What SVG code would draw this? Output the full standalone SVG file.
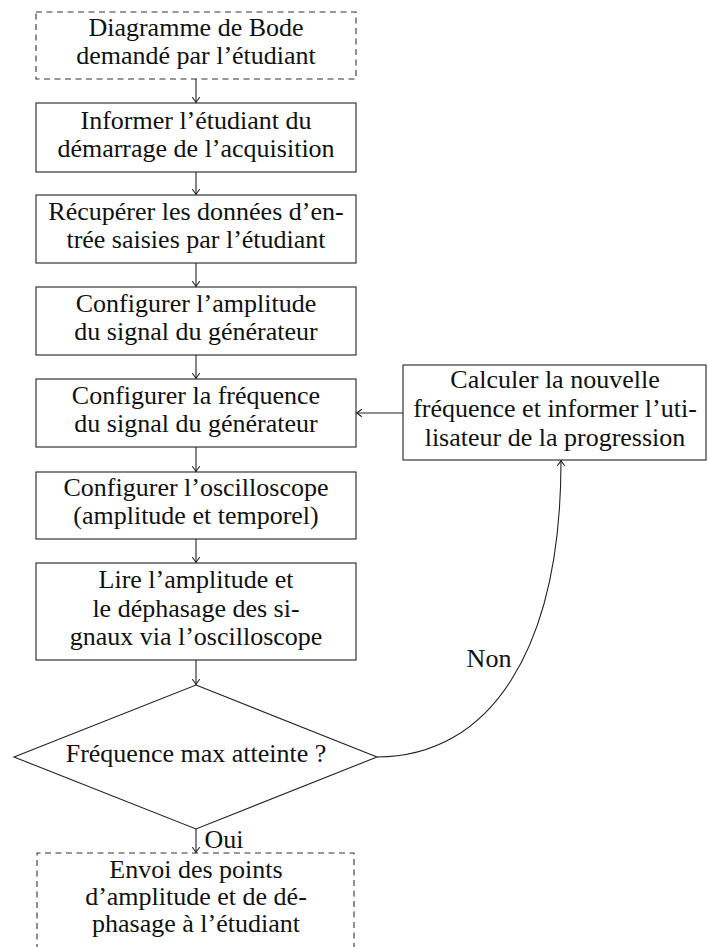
<svg xmlns="http://www.w3.org/2000/svg" width="708" height="947" viewBox="0 0 708 947">
<defs>
<style>
.box{fill:#fff;stroke:#222;stroke-width:1.1}
.dash{fill:none;stroke:#333;stroke-width:1.1;stroke-dasharray:6,4.5}
.t{font-family:"Liberation Serif","Times New Roman",serif;font-size:26px;fill:#111;text-anchor:middle}
.c{fill:none;stroke:#222;stroke-width:1.1}
</style>
<marker id="ah" viewBox="-6 -4 8 8" markerWidth="8" markerHeight="8" refX="0" refY="0" orient="auto" markerUnits="userSpaceOnUse">
<path d="M-5,-3.5 Q-1.5,-0.8 0,0 Q-1.5,0.8 -5,3.5" fill="none" stroke="#222" stroke-width="1.1" stroke-linecap="round"/>
</marker>
</defs>
<rect width="708" height="947" fill="#fff"/>

<g id="connectors">
<line class="c" x1="196" y1="79" x2="196" y2="102.5" marker-end="url(#ah)"/>
<line class="c" x1="196" y1="172" x2="196" y2="194.5" marker-end="url(#ah)"/>
<line class="c" x1="196" y1="263" x2="196" y2="286.5" marker-end="url(#ah)"/>
<line class="c" x1="196" y1="355" x2="196" y2="378.5" marker-end="url(#ah)"/>
<line class="c" x1="196" y1="447" x2="196" y2="471.5" marker-end="url(#ah)"/>
<line class="c" x1="196" y1="539" x2="196" y2="562.5" marker-end="url(#ah)"/>
<line class="c" x1="196" y1="660" x2="196" y2="684.5" marker-end="url(#ah)"/>
<line class="c" x1="196" y1="829" x2="196" y2="852.5" marker-end="url(#ah)"/>
<line class="c" x1="403" y1="413" x2="356.5" y2="413" marker-end="url(#ah)"/>
<path class="c" d="M377,757 C490,757 561,650 561,460.5" marker-end="url(#ah)"/>
<text class="t" x="224" y="848">Oui</text>
<text class="t" x="489" y="667">Non</text>
</g>

<g id="n1">
<rect class="dash" x="36" y="12" width="320" height="67"/>
<text class="t" x="196" y="36">Diagramme de Bode</text>
<text class="t" x="196" y="64">demandé par l’étudiant</text>
</g>
<g id="n2">
<rect class="box" x="36" y="103" width="320" height="69"/>
<text class="t" x="196" y="129">Informer l’étudiant du</text>
<text class="t" x="196" y="157">démarrage de l’acquisition</text>
</g>
<g id="n3">
<rect class="box" x="36" y="195" width="320" height="68"/>
<text class="t" x="196" y="220">Récupérer les données d’en-</text>
<text class="t" x="196" y="248">trée saisies par l’étudiant</text>
</g>
<g id="n4">
<rect class="box" x="36" y="287" width="320" height="68"/>
<text class="t" x="196" y="312">Configurer l’amplitude</text>
<text class="t" x="196" y="340">du signal du générateur</text>
</g>
<g id="n5">
<rect class="box" x="36" y="379" width="320" height="68"/>
<text class="t" x="196" y="404">Configurer la fréquence</text>
<text class="t" x="196" y="432">du signal du générateur</text>
</g>
<g id="n6">
<rect class="box" x="36" y="472" width="320" height="67"/>
<text class="t" x="196" y="496">Configurer l’oscilloscope</text>
<text class="t" x="196" y="524">(amplitude et temporel)</text>
</g>
<g id="n7">
<rect class="box" x="36" y="563" width="320" height="97"/>
<text class="t" x="196" y="588">Lire l’amplitude et</text>
<text class="t" x="196" y="617">le déphasage des si-</text>
<text class="t" x="196" y="645">gnaux via l’oscilloscope</text>
</g>
<g id="n8">
<polygon class="box" points="196,685 377,757 196,829 14,757"/>
<text class="t" x="196" y="762">Fréquence max atteinte ?</text>
</g>
<g id="n9">
<rect class="box" x="403" y="365" width="303" height="95"/>
<text class="t" x="555" y="388">Calculer la nouvelle</text>
<text class="t" x="555" y="417">fréquence et informer l’uti-</text>
<text class="t" x="555" y="446">lisateur de la progression</text>
</g>
<g id="n10">
<path class="dash" d="M37,950 V853 H354 V950"/>
<text class="t" x="196" y="878">Envoi des points</text>
<text class="t" x="196" y="905">d’amplitude et de dé-</text>
<text class="t" x="196" y="932">phasage à l’étudiant</text>
</g>
</svg>
